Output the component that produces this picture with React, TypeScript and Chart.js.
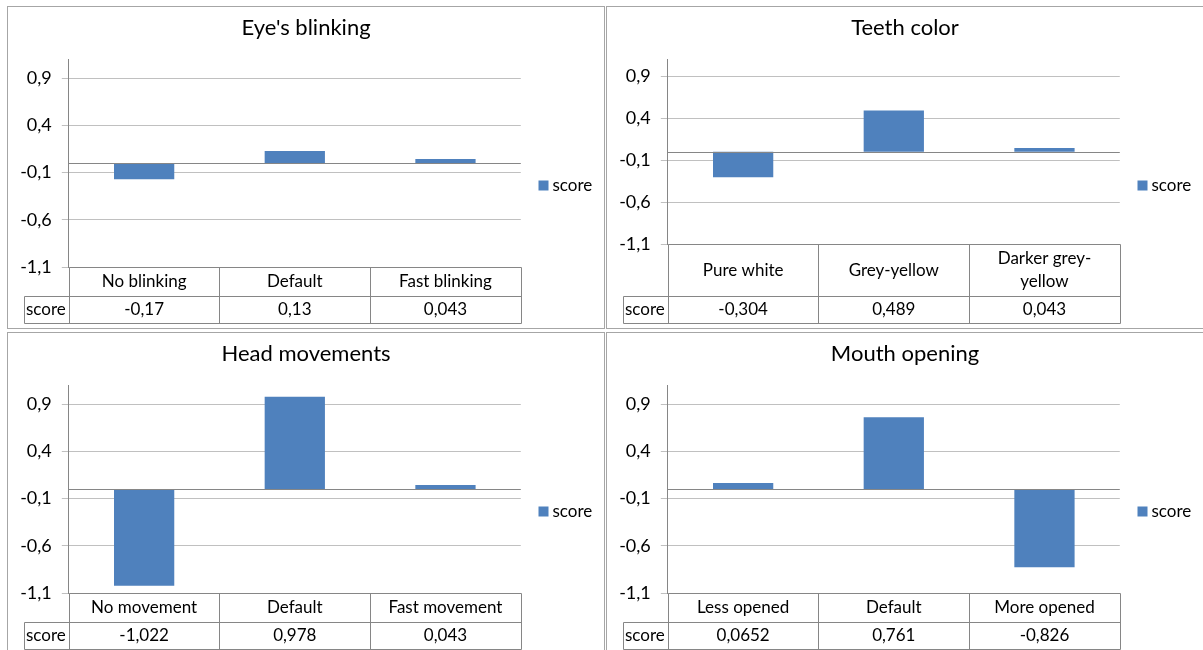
import React, { useEffect, useRef } from 'react';
import { Chart, registerables } from 'chart.js';

Chart.register(...registerables);

// ---------------- data ----------------
const seriesName = 'score';
const yTickValues = [-1.1, -0.6, -0.1, 0.4, 0.9];
const yMin = -1.1;
const yMax = 1.1;

const eyeTitle = "Eye's blinking";
const eyeCategories: (string | string[])[] = ['No blinking', 'Default', 'Fast blinking'];
const eyeScores = [-0.17, 0.13, 0.043];

const teethTitle = 'Teeth color';
const teethCategories: (string | string[])[] = ['Pure white', 'Grey-yellow', ['Darker grey-', 'yellow']];
const teethScores = [-0.304, 0.489, 0.043];

const headTitle = 'Head movements';
const headCategories: (string | string[])[] = ['No movement', 'Default', 'Fast movement'];
const headScores = [-1.022, 0.978, 0.043];

const mouthTitle = 'Mouth opening';
const mouthCategories: (string | string[])[] = ['Less opened', 'Default', 'More opened'];
const mouthScores = [0.0652, 0.761, -0.826];

// ---------------- styling / layout ----------------
const FONT = 'Lato, "Open Sans", sans-serif';
const BAR_COLOR = '#4F81BD';
const AXIS_COLOR = '#868686';
const GRID_COLOR = '#c0c0c0';
const TEXT_COLOR = '#000000';
const PANEL_W = 598;
const PANEL_H = 323;
const CANVAS_W = PANEL_W - 2;
const CANVAS_H = PANEL_H - 2;
const PLOT_LEFT = 60.8;
const PLOT_RIGHT = 512.8;
const PLOT_TOP = 52.3;
const TITLE_SIZE = 22;
const TITLE_LINE = TITLE_SIZE * 1.2;
const TITLE_PAD_TOP = 7.3;
const TEXT_SIZE = 17;
const TICK_SIZE = 18;
const ROW_H = 29;
const LINE_H = 23;
const VALUE_ROW_H = 27.4;
const TABLE_GAP = 4.6;
const KEY_W = 45;
const LEGEND_Y = 178.5;

const formatNum = (v: number) => String(v).replace('.', ',');

const excelTable = {
  id: 'excelTable',
  afterDatasetsDraw(chart: any) {
    const { ctx, chartArea: ca, scales } = chart;
    const y0 = Math.round(scales.y.getPixelForValue(0)) + 0.5;
    ctx.save();
    ctx.strokeStyle = AXIS_COLOR;
    ctx.lineWidth = 1;
    ctx.beginPath();
    ctx.moveTo(ca.left, y0);
    ctx.lineTo(ca.right, y0);
    ctx.stroke();
    ctx.restore();
  },
  afterDraw(chart: any, _args: any, opts: any) {
    const { ctx, chartArea: ca, scales } = chart;
    const x = scales.x;
    const labels = chart.data.labels as (string | string[])[];
    const ds = chart.data.datasets[0];
    const n = labels.length;
    const px = (v: number) => Math.round(v) + 0.5;
    const t0 = px(ca.bottom);
    const t1 = px(ca.bottom + opts.row1H);
    const t2 = px(ca.bottom + opts.row1H + opts.row2H);
    const keyLeft = px(ca.left - opts.keyWidth);
    const right = px(ca.right);
    const edges: number[] = [];
    for (let i = 0; i <= n; i++) edges.push(px(x.getPixelForValue(i - 0.5)));

    ctx.save();
    ctx.strokeStyle = AXIS_COLOR;
    ctx.lineWidth = 1;
    ctx.beginPath();
    ctx.moveTo(edges[0], t0); ctx.lineTo(right, t0);
    ctx.moveTo(keyLeft, t1); ctx.lineTo(right, t1);
    ctx.moveTo(keyLeft, t2); ctx.lineTo(right, t2);
    ctx.moveTo(keyLeft, t1); ctx.lineTo(keyLeft, t2);
    edges.forEach((e) => { ctx.moveTo(e, t0); ctx.lineTo(e, t2); });
    ctx.stroke();

    ctx.fillStyle = TEXT_COLOR;
    ctx.font = `${TEXT_SIZE}px ${FONT}`;
    ctx.textBaseline = 'middle';
    ctx.textAlign = 'center';
    const row1Mid = (t0 + t1) / 2;
    const row2Mid = (t1 + t2) / 2;
    labels.forEach((lab, i) => {
      const cx = x.getPixelForValue(i);
      const lines = Array.isArray(lab) ? lab : [lab];
      const startY = row1Mid - ((lines.length - 1) * LINE_H) / 2;
      lines.forEach((ln, j) => ctx.fillText(ln, cx, startY + j * LINE_H));
      ctx.fillText(formatNum(ds.data[i]), cx, row2Mid);
    });
    ctx.textAlign = 'left';
    ctx.fillText(ds.label, keyLeft + 1.5, row2Mid);

    // legend
    const lx = ca.right + 17.7;
    ctx.fillStyle = ds.backgroundColor;
    ctx.fillRect(lx, LEGEND_Y - 5, 10, 10);
    ctx.fillStyle = TEXT_COLOR;
    ctx.fillText(ds.label, lx + 14, LEGEND_Y);
    ctx.restore();
  },
};

type PanelProps = {
  title: string;
  categories: (string | string[])[];
  scores: number[];
  left: number;
  top: number;
};

function ChartPanel({ title, categories, scores, left, top }: PanelProps) {
  const ref = useRef<HTMLCanvasElement>(null);
  useEffect(() => {
    if (!ref.current) return;
    const maxLines = Math.max(...categories.map((c) => (Array.isArray(c) ? c.length : 1)));
    const row1H = ROW_H + (maxLines - 1) * LINE_H;
    const chart = new Chart(ref.current, {
      type: 'bar',
      data: {
        labels: categories as any,
        datasets: [
          {
            label: seriesName,
            data: scores,
            backgroundColor: BAR_COLOR,
            borderWidth: 0,
            barPercentage: 0.4,
            categoryPercentage: 1,
          },
        ],
      },
      options: {
        responsive: false,
        animation: false,
        devicePixelRatio: 1,
        layout: {
          padding: {
            left: 0,
            top: 0,
            right: 0,
            bottom: row1H + VALUE_ROW_H + TABLE_GAP,
          },
        },
        plugins: {
          legend: { display: false },
          tooltip: { enabled: false },
          title: {
            display: true,
            text: title,
            color: TEXT_COLOR,
            font: { family: FONT, size: TITLE_SIZE, weight: 'normal', lineHeight: 1.2 },
            padding: { top: TITLE_PAD_TOP, bottom: PLOT_TOP - TITLE_PAD_TOP - TITLE_LINE },
          },
          excelTable: { row1H, row2H: VALUE_ROW_H, keyWidth: KEY_W },
        } as any,
        scales: {
          x: { display: false },
          y: {
            min: yMin,
            max: yMax,
            afterBuildTicks: (s: any) => {
              s.ticks = yTickValues.map((v) => ({ value: v }));
            },
            afterFit: (s: any) => {
              s.width = PLOT_LEFT;
            },
            grid: { color: GRID_COLOR, lineWidth: 1, drawTicks: true, tickLength: 7 },
            border: { display: true, color: AXIS_COLOR, width: 1 },
            ticks: {
              padding: 10,
              color: TEXT_COLOR,
              font: { family: FONT, size: TICK_SIZE },
              callback: (v: any) => formatNum(Number(v)),
            },
          },
          legendSpace: {
            type: 'linear',
            position: 'right',
            display: true,
            grid: { display: false, drawTicks: false },
            border: { display: false },
            ticks: { display: false },
            afterFit: (s: any) => {
              s.width = CANVAS_W - PLOT_RIGHT;
            },
          },
        } as any,
      },
      plugins: [excelTable],
    });
    return () => chart.destroy();
  }, [title, categories, scores]);

  return (
    <div
      style={{
        position: 'absolute',
        left,
        top,
        width: PANEL_W,
        height: PANEL_H,
        boxSizing: 'border-box',
        border: '1px solid #a6a6a6',
        background: '#fff',
      }}
    >
      <canvas ref={ref} width={CANVAS_W} height={CANVAS_H} style={{ display: 'block' }} />
    </div>
  );
}

export default function App() {
  return (
    <div
      style={{
        position: 'absolute',
        left: 0,
        top: 0,
        width: 1203,
        height: 650,
        overflow: 'hidden',
        background: '#fff',
      }}
    >
      <ChartPanel title={eyeTitle} categories={eyeCategories} scores={eyeScores} left={7} top={6} />
      <ChartPanel title={teethTitle} categories={teethCategories} scores={teethScores} left={606} top={6} />
      <ChartPanel title={headTitle} categories={headCategories} scores={headScores} left={7} top={332} />
      <ChartPanel title={mouthTitle} categories={mouthCategories} scores={mouthScores} left={606} top={332} />
    </div>
  );
}
